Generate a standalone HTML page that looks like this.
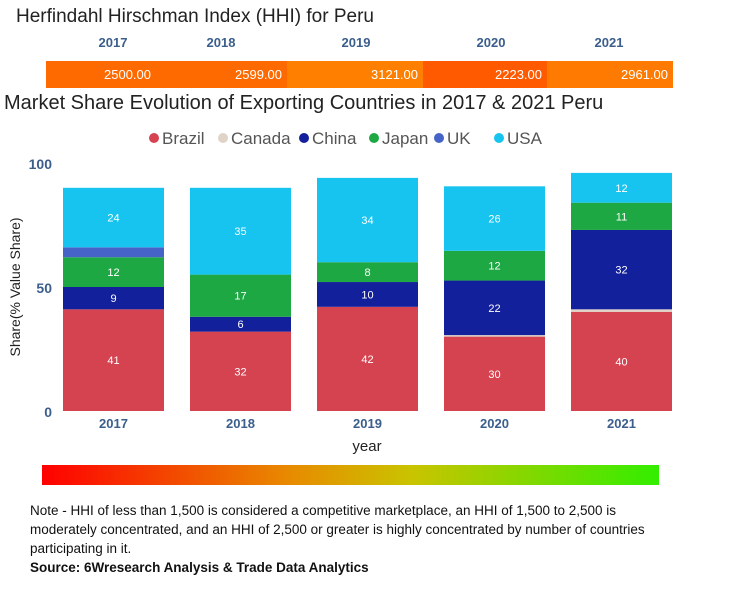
<!DOCTYPE html>
<html><head><meta charset="utf-8"><style>
body{margin:0;width:754px;height:600px;background:#fff;font-family:"Liberation Sans",sans-serif;position:relative;overflow:hidden}
.abs{position:absolute}
</style></head><body>
<div class="abs" style="left:16px;top:6px;font-size:19px;color:#222">Herfindahl Hirschman Index (HHI) for Peru</div>
<div id="hhi"></div>
<div class="abs" style="left:4px;top:92px;font-size:20px;color:#222">Market Share Evolution of Exporting Countries in 2017 &amp; 2021 Peru</div>
<svg id="chart" class="abs" style="left:0;top:120px" width="754" height="345"></svg>
<div class="abs" style="left:42px;top:465px;width:617px;height:20px;background:linear-gradient(to right,#ff0000,#e88a00 40%,#c9c400 60%,#33ee00)"></div>
<div class="abs" style="left:30px;top:501px;width:625px;font-size:13.5px;line-height:19px;color:#111">Note - HHI of less than 1,500 is considered a competitive marketplace, an HHI of 1,500 to 2,500 is moderately concentrated, and an HHI of 2,500 or greater is highly concentrated by number of countries participating in it.<br><b>Source: 6Wresearch Analysis &amp; Trade Data Analytics</b></div>
<script>
const years=["2017","2018","2019","2020","2021"];
const hhiValues=[2500,2599,3121,2223,2961];
const hhiColors=["#ff6a00","#ff6a00","#ff8000","#ff5a00","#ff7a00"];
const series=["Brazil","Canada","China","Japan","UK","USA"];
const colors=["#d64350","#e0d4c8","#13209b","#1ea843","#4663c8","#17c4f0"];
const brazil=[41,32,42,30,40];
const canada=[0,0,0,0.6,1];
const china=[9,6,10,22,32];
const japan=[12,17,8,12,11];
const uk=[4,0,0,0,0];
const usa=[24,35,34,26,12];
const yTicks=[0,50,100];
const NS="http://www.w3.org/2000/svg";
const hhi=document.getElementById('hhi');
const bounds=[46,156,287,423,547,673];
const yearCenters=[113,221,356,491,609];
years.forEach((y,i)=>{
  const h=document.createElement('div');h.className='abs';
  
  
  h.style.cssText=`left:${yearCenters[i]-35}px;top:35px;width:70px;text-align:center;font-size:13px;font-weight:bold;color:#3b5e8c`;
  h.textContent=y;hhi.appendChild(h);
  const c=document.createElement('div');c.className='abs';
  
  
  const l=bounds[i],r=bounds[i+1];
  c.style.cssText=`left:${l}px;top:61px;width:${r-l-5}px;padding-right:5px;height:27px;line-height:27px;text-align:right;font-size:13px;color:#fff;background:${hhiColors[i]}`;
  c.textContent=hhiValues[i].toFixed(2);hhi.appendChild(c);
});
const svg=document.getElementById('chart');
const y0=291,pxPer=2.48;
const yS=v=>y0-v*pxPer;
const xS=i=>63+i*127;const bw=101;
function el(t,a,txt){const e=document.createElementNS(NS,t);for(const k in a)e.setAttribute(k,a[k]);if(txt!==undefined)e.textContent=txt;svg.appendChild(e);return e;}
const legX=[150,219,300,370,435,495];
series.forEach((s,i)=>{
  const c=el('circle',{cx:legX[i]+4,cy:18,r:5,fill:colors[i]});
  
  
  const t=el('text',{x:legX[i]+12,y:24,'font-size':17,fill:'#555'},s);
  
  
});
yTicks.forEach(v=>{
  const t=el('text',{x:52,y:yS(v)+6,'text-anchor':'end','font-size':14,'font-weight':'bold',fill:'#3b5e8c'},v);
  
  
});
const yt=el('text',{x:20,y:yS(50),'text-anchor':'middle','font-size':14,fill:'#222',transform:`rotate(-90 20 ${yS(50)})`},'Share(% Value Share)');


const xt=el('text',{x:367,y:331,'text-anchor':'middle','font-size':15,fill:'#222'},'year');


const data=[brazil,canada,china,japan,uk,usa];
years.forEach((yr,i)=>{
  let acc=0;
  data.forEach((arr,s)=>{
    const v=arr[i];if(v<=0)return;
    const r=el('rect',{x:xS(i),y:yS(acc+v),width:bw,height:v*pxPer,fill:colors[s]});
    
    
    if(v>=5){
      const t=el('text',{x:xS(i)+bw/2,y:yS(acc+v/2)+4,'text-anchor':'middle','font-size':11,fill:'#fff'},v);
      
      
    }
    acc+=v;
  });
  const t=el('text',{x:xS(i)+bw/2,y:308,'text-anchor':'middle','font-size':13,'font-weight':'bold',fill:'#3b5e8c'},yr);
  
  
});
</script>
</body></html>
